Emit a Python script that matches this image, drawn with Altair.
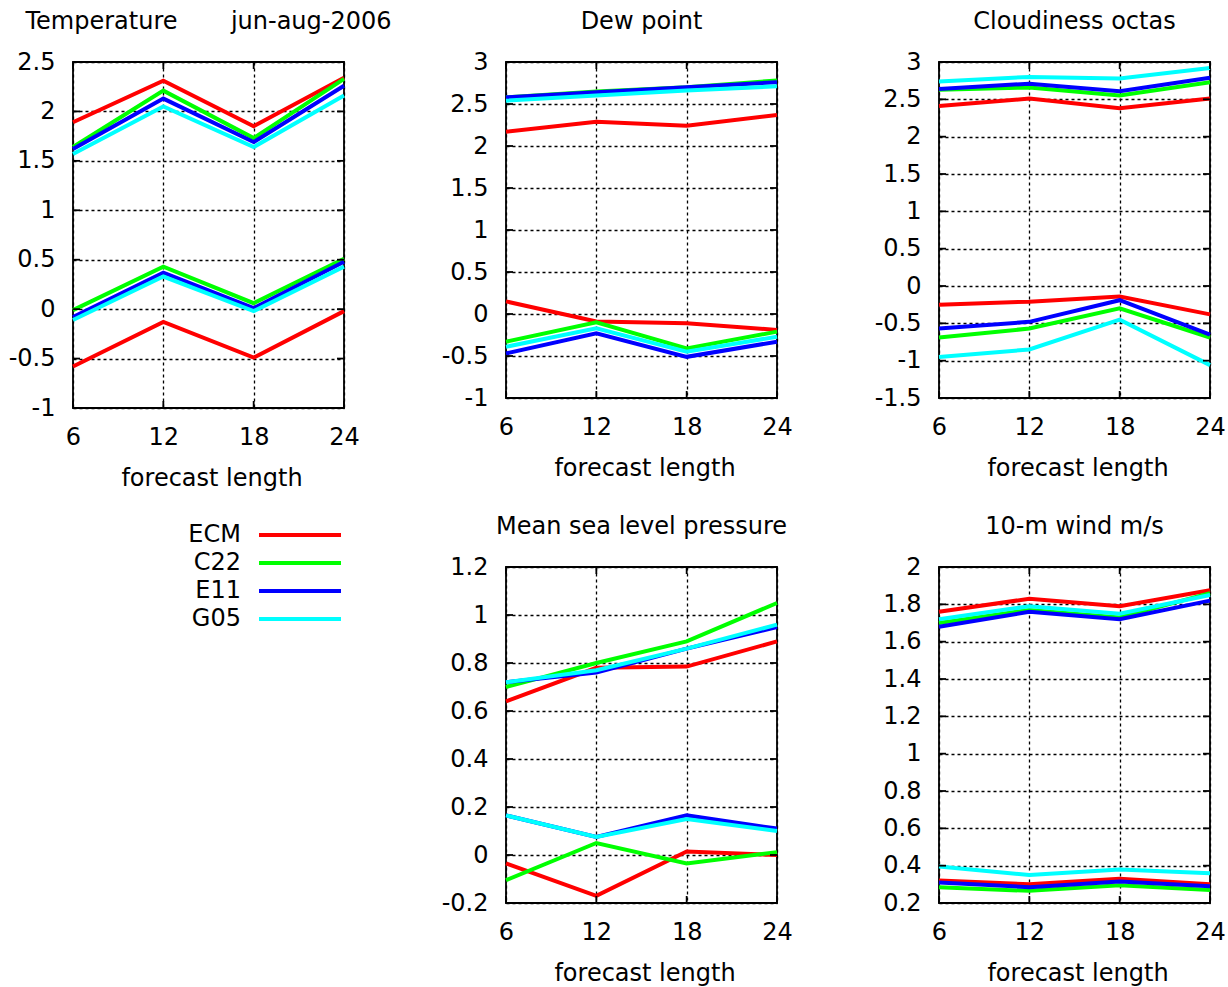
import altair as alt
import pandas as pd

FONT = "DejaVu Sans"
FS = 24

leads = [6, 12, 18, 24]
models = ["ECM", "C22", "E11", "G05"]
model_colors = ["#ff0000", "#00ff00", "#0000ff", "#00ffff"]

# Temperature (two statistics per model: upper and lower group of curves)
t2m_upper = {
    "ECM": [1.89, 2.31, 1.85, 2.34],
    "C22": [1.64, 2.21, 1.73, 2.33],
    "E11": [1.62, 2.13, 1.69, 2.26],
    "G05": [1.57, 2.05, 1.64, 2.16],
}
t2m_lower = {
    "ECM": [-0.58, -0.13, -0.49, -0.02],
    "C22": [-0.01, 0.43, 0.06, 0.51],
    "E11": [-0.08, 0.37, 0.01, 0.48],
    "G05": [-0.11, 0.33, -0.02, 0.43],
}
t2m_ticks = [-1, -0.5, 0, 0.5, 1, 1.5, 2, 2.5]

# Dew point
td_upper = {
    "ECM": [2.17, 2.29, 2.24, 2.37],
    "C22": [2.58, 2.65, 2.70, 2.78],
    "E11": [2.58, 2.64, 2.70, 2.76],
    "G05": [2.54, 2.60, 2.66, 2.71],
}
td_lower = {
    "ECM": [0.15, -0.09, -0.11, -0.19],
    "C22": [-0.33, -0.10, -0.41, -0.21],
    "E11": [-0.47, -0.23, -0.51, -0.33],
    "G05": [-0.39, -0.17, -0.45, -0.27],
}
td_ticks = [-1, -0.5, 0, 0.5, 1, 1.5, 2, 2.5, 3]

# Cloudiness
cc_upper = {
    "ECM": [2.41, 2.51, 2.38, 2.51],
    "C22": [2.63, 2.66, 2.55, 2.73],
    "E11": [2.64, 2.71, 2.61, 2.79],
    "G05": [2.74, 2.80, 2.78, 2.92],
}
cc_lower = {
    "ECM": [-0.25, -0.21, -0.14, -0.38],
    "C22": [-0.69, -0.57, -0.30, -0.69],
    "E11": [-0.57, -0.48, -0.19, -0.65],
    "G05": [-0.95, -0.85, -0.45, -1.06],
}
cc_ticks = [-1.5, -1, -0.5, 0, 0.5, 1, 1.5, 2, 2.5, 3]

# Mean sea level pressure
mslp_upper = {
    "ECM": [0.64, 0.78, 0.785, 0.89],
    "C22": [0.70, 0.80, 0.89, 1.05],
    "E11": [0.72, 0.76, 0.86, 0.95],
    "G05": [0.72, 0.77, 0.86, 0.96],
}
mslp_lower = {
    "ECM": [-0.035, -0.17, 0.015, 0.0],
    "C22": [-0.105, 0.05, -0.035, 0.012],
    "E11": [0.165, 0.075, 0.165, 0.11],
    "G05": [0.165, 0.075, 0.15, 0.10],
}
mslp_ticks = [-0.2, 0, 0.2, 0.4, 0.6, 0.8, 1, 1.2]

# 10-m wind speed
ws_upper = {
    "ECM": [1.76, 1.83, 1.79, 1.875],
    "C22": [1.70, 1.77, 1.73, 1.86],
    "E11": [1.68, 1.76, 1.72, 1.82],
    "G05": [1.72, 1.79, 1.75, 1.85],
}
ws_lower = {
    "ECM": [0.32, 0.30, 0.33, 0.30],
    "C22": [0.285, 0.265, 0.295, 0.27],
    "E11": [0.31, 0.285, 0.315, 0.29],
    "G05": [0.395, 0.35, 0.38, 0.36],
}
ws_ticks = [0.2, 0.4, 0.6, 0.8, 1, 1.2, 1.4, 1.6, 1.8, 2]

PANEL_W = 271
TICK_LEN = 7
GRID_DASH = [3, 3]

color_scale = alt.Scale(domain=models, range=model_colors)


def panel(title, upper, lower, ticks, height):
    rows = []
    for stat, block in (("upper", upper), ("lower", lower)):
        for m in models:
            for lead, v in zip(leads, block[m]):
                rows.append({"model": m, "stat": stat, "lead": lead, "value": v})
    df = pd.DataFrame(rows)

    x_scale = alt.Scale(domain=[leads[0], leads[-1]], nice=False, zero=False)
    y_scale = alt.Scale(domain=[ticks[0], ticks[-1]], nice=False, zero=False)
    x_axis = alt.Axis(
        values=leads,
        title="forecast length",
        titleY=77,
        titleX=PANEL_W / 2 + 3,
        titleBaseline="alphabetic",
        labelBaseline="alphabetic",
        labelPadding=36,
        labelOverlap=False,
        labelFlush=False,
    )
    y_axis = alt.Axis(
        values=ticks,
        title=None,
        labelExpr="'' + datum.value",
        labelPadding=18,
        labelBaseline="middle",
        labelOverlap=False,
        labelFlush=False,
    )
    x_enc = alt.X("lead:Q", scale=x_scale, axis=x_axis)
    y_enc = alt.Y("value:Q", scale=y_scale, axis=y_axis)

    lines = (
        alt.Chart(df)
        .mark_line(strokeWidth=4)
        .encode(
            x=x_enc,
            y=y_enc,
            color=alt.Color("model:N", scale=color_scale, legend=None),
            detail="stat:N",
        )
    )

    # short inward tick marks on all four borders
    ytk = alt.Chart(pd.DataFrame({"value": ticks})).mark_rule(
        color="black", strokeWidth=1.8
    ).encode(y=y_enc)
    y_left = ytk.encode(x=alt.value(0), x2=alt.value(TICK_LEN))
    y_right = ytk.encode(x=alt.value(PANEL_W - TICK_LEN), x2=alt.value(PANEL_W))

    xtk = alt.Chart(pd.DataFrame({"lead": leads})).mark_rule(
        color="black", strokeWidth=1.8
    ).encode(x=x_enc)
    x_bottom = xtk.encode(y=alt.value(height - TICK_LEN), y2=alt.value(height))
    x_top = xtk.encode(y=alt.value(0), y2=alt.value(TICK_LEN))

    return alt.layer(lines, y_left, y_right, x_bottom, x_top).properties(
        width=PANEL_W,
        height=height,
        title=alt.TitleParams(
            title,
            anchor="middle",
            frame="group",
            baseline="alphabetic",
            offset=-3,
        ),
    )


NBSP = "\u00a0"
temp = panel("Temperature" + NBSP * 7 + "jun-aug-2006", t2m_upper, t2m_lower, t2m_ticks, 346)
dew = panel("Dew point", td_upper, td_lower, td_ticks, 336)
cloud = panel("Cloudiness octas", cc_upper, cc_lower, cc_ticks, 336)
mslp = panel("Mean sea level pressure", mslp_upper, mslp_lower, mslp_ticks, 336)
wind = panel("10-m wind m/s", ws_upper, ws_lower, ws_ticks, 336)

# Key: model names with a line sample to the right of each name
legend_df = pd.DataFrame({"model": models})
key_base = alt.Chart(legend_df).encode(
    y=alt.Y(
        "model:N",
        scale=alt.Scale(type="point", domain=models, range=[-32, 52], padding=0),
        axis=None,
    )
)
key_lines = key_base.mark_rule(strokeWidth=4).encode(
    x=alt.value(186),
    x2=alt.value(268),
    color=alt.Color("model:N", scale=color_scale, legend=None),
)
key_text = key_base.mark_text(
    align="right", baseline="middle", font=FONT, fontSize=FS, color="black"
).encode(x=alt.value(168), text="model:N")
key = (key_lines + key_text).properties(
    width=PANEL_W, height=336, view=alt.ViewBackground(strokeOpacity=0)
)

chart = (
    alt.concat(
        temp, dew, cloud, key, mslp, wind,
        columns=3,
        spacing=alt.RowColnumber(row=159, column=162),
        bounds="flush",
    )
    .properties(background="white", padding={"left": 7, "top": 9, "right": 0, "bottom": 0})
    .configure_view(stroke="black", strokeWidth=1.8)
    .configure_axis(
        labelFont=FONT,
        labelFontSize=FS,
        labelColor="black",
        labelFlush=False,
        labelOverlap=False,
        titleFont=FONT,
        titleFontSize=FS,
        titleFontWeight="normal",
        titleColor="black",
        ticks=False,
        tickSize=0,
        domain=False,
        grid=True,
        gridColor="black",
        gridDash=GRID_DASH,
        gridWidth=1.3,
        gridOpacity=1,
    )
    .configure_title(
        font=FONT,
        fontSize=FS,
        fontWeight="normal",
        color="black",
    )
)

chart.save("out.html", embed_options={"renderer": "svg", "actions": False})
